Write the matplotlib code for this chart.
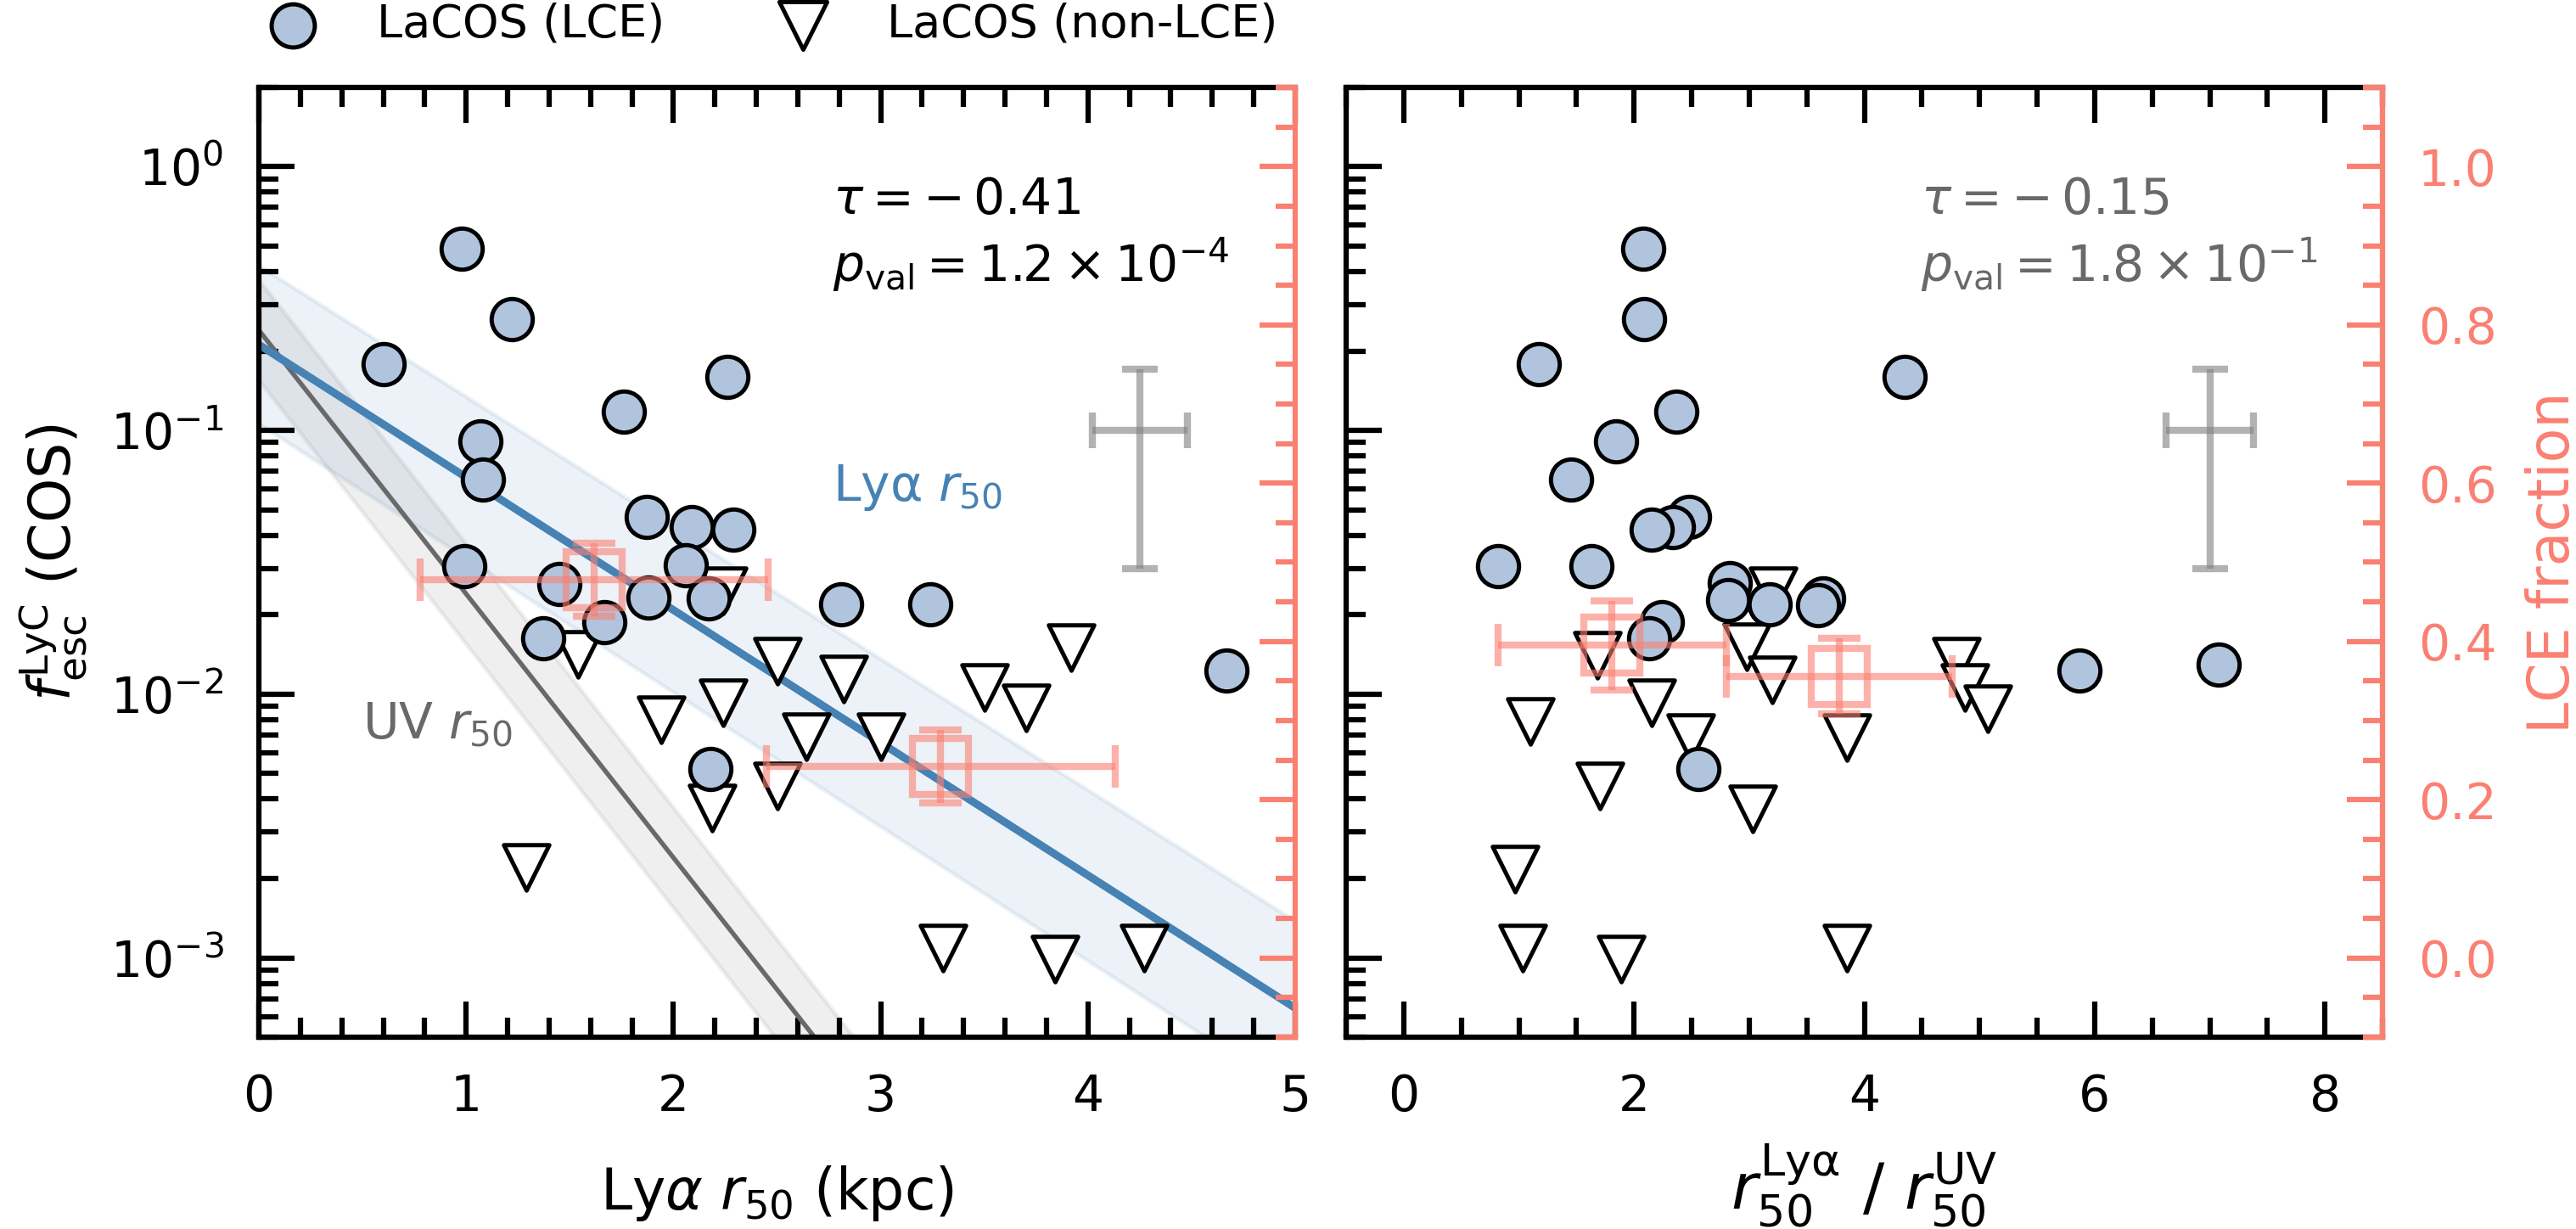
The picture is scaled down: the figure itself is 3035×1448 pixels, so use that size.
import numpy as np
import matplotlib
matplotlib.use("Agg")
from matplotlib import pyplot as plt
from matplotlib.ticker import MultipleLocator, LogLocator, NullFormatter

# ---- data ----
# left panel: Lya r50 (kpc) vs fesc(LyC)
lce_r50 = [0.98, 1.22, 0.60, 2.26, 1.76, 1.07, 1.08, 1.87, 2.09, 2.29, 0.99,
           2.06, 1.45, 1.88, 2.17, 2.81, 3.24, 1.665, 1.37, 4.67, 2.18]
lce_fesc_l = [0.49, 0.265, 0.178, 0.160, 0.118, 0.091, 0.065, 0.047, 0.043, 0.042,
              0.0306, 0.0309, 0.0262, 0.0232, 0.0231, 0.0219, 0.0219, 0.0187,
              0.0163, 0.0123, 0.0052]
non_r50 = [1.54, 2.50, 2.24, 1.94, 2.24, 2.185, 2.50, 1.29, 2.82, 3.92, 3.50,
           3.70, 2.64, 3.00, 3.30, 3.84, 4.27]
non_fesc_l = [0.0141, 0.0133, 0.0247, 0.0080, 0.0093, 0.0037, 0.0045, 0.0022,
              0.0114, 0.0150, 0.0106, 0.0089, 0.0069, 0.0069, 0.00109, 0.00099,
              0.00109]

# right panel: r50(Lya)/r50(UV) vs fesc(LyC)
lce_ratio = [2.08, 2.09, 1.17, 4.35, 2.37, 1.84, 1.45, 2.48, 2.34, 2.15, 0.82,
             1.63, 2.83, 2.82, 3.18, 3.64, 3.60, 2.24, 2.13, 5.87, 7.08, 2.56]
lce_fesc_r = [0.49, 0.265, 0.178, 0.160, 0.118, 0.091, 0.065, 0.047, 0.043, 0.042,
              0.0306, 0.0306, 0.0264, 0.0228, 0.0219, 0.0231, 0.0218, 0.0188,
              0.0163, 0.0123, 0.0129, 0.0052]
non_ratio = [1.68, 1.10, 2.15, 2.49, 1.70, 3.03, 0.965, 1.03, 1.89, 3.85, 2.98,
             3.20, 3.85, 4.80, 4.87, 5.07, 3.21]
non_fesc_r = [0.0140, 0.0079, 0.0093, 0.00685, 0.00448, 0.00366, 0.00217,
              0.00109, 0.00099, 0.00109, 0.0151, 0.0113, 0.00685, 0.0133, 0.0106,
              0.0088, 0.0247]

# binned LCE fraction (twin axis)
bin_r50 = [1.617, 3.29]
bin_r50_err = [0.84, 0.84]
bin_frac_l = [0.478, 0.242]
bin_frac_l_err = [0.046, 0.046]
bin_ratio = [1.81, 3.78]
bin_ratio_err = [0.99, 0.98]
bin_frac_r = [0.395, 0.356]
bin_frac_r_err = [0.056, 0.048]

# log-linear fits: log10(fesc) = a + b*x
fit_lya = (-0.675, -0.503)
fit_lya_lo = (-0.975, -0.509)
fit_lya_hi = (-0.375, -0.497)
fit_uv = (-0.62, -1.0)
fit_uv_lo = (-0.81, -1.0)
fit_uv_hi = (-0.43, -1.0)

# typical uncertainty (x, y, xerr, yerr)
typ_l = (4.25, 0.1, 0.23, 0.07)
typ_r = (7.0, 0.1, 0.38, 0.07)

stats_l = (r"$\tau = -\,0.41$", r"$p_{\rm val} = 1.2 \times 10^{-4}$")
stats_r = (r"$\tau = -\,0.15$", r"$p_{\rm val} = 1.8 \times 10^{-1}$")

salmon = "#fa8072"
ylim = (5e-4, 2.0)
# twin axis: LCE fraction 0..1 sits on 1e-3..1e0
tlim = ((np.log10(ylim[0]) + 3) / 3, (np.log10(ylim[1]) + 3) / 3)

fig = plt.figure(figsize=(3035 / 300, 1448 / 300), dpi=300)
axL = fig.add_axes([0.1005, 0.156, 0.4023, 0.773])
axR = fig.add_axes([0.5226, 0.156, 0.4023, 0.773])


def style_main(ax):
    ax.set_yscale("log")
    ax.set_ylim(*ylim)
    for s in ["left", "top", "bottom"]:
        ax.spines[s].set_linewidth(1.5)
    ax.spines["right"].set_visible(False)
    ax.tick_params(which="both", direction="in", top=True, right=False,
                   width=1.5, labelsize=14, pad=10)
    ax.tick_params(which="major", length=10)
    ax.tick_params(which="minor", length=5.5)
    ax.yaxis.set_major_locator(LogLocator(base=10, numticks=10))
    ax.yaxis.set_minor_locator(LogLocator(base=10, subs=np.arange(2, 10), numticks=20))
    ax.yaxis.set_minor_formatter(NullFormatter())


def style_twin(ax, labels):
    tw = ax.twinx()
    tw.set_ylim(*tlim)
    for s in ["left", "top", "bottom"]:
        tw.spines[s].set_visible(False)
    tw.spines["right"].set_color(salmon)
    tw.spines["right"].set_linewidth(1.5)
    tw.yaxis.set_major_locator(MultipleLocator(0.2))
    tw.yaxis.set_minor_locator(MultipleLocator(0.05))
    tw.tick_params(which="both", direction="in", colors=salmon, width=1.5,
                   labelsize=14, pad=10, labelright=labels)
    tw.tick_params(which="major", length=10)
    tw.tick_params(which="minor", length=5.5)
    return tw


# ---- left panel ----
style_main(axL)
xx = np.linspace(0, 5, 200)
axL.fill_between(xx, 10 ** (fit_uv_lo[0] + fit_uv_lo[1] * xx),
                 10 ** (fit_uv_hi[0] + fit_uv_hi[1] * xx),
                 color="gray", alpha=0.12, lw=1.2, zorder=1)
axL.plot(xx, 10 ** (fit_uv[0] + fit_uv[1] * xx), color="dimgray", lw=1.3, zorder=2)
axL.fill_between(xx, 10 ** (fit_lya_lo[0] + fit_lya_lo[1] * xx),
                 10 ** (fit_lya_hi[0] + fit_lya_hi[1] * xx),
                 color="steelblue", alpha=0.1, lw=1.2, zorder=1)
axL.plot(xx, 10 ** (fit_lya[0] + fit_lya[1] * xx), color="steelblue", lw=2.2, zorder=2)

hc = axL.scatter(lce_r50, lce_fesc_l, s=135, marker="o", c="lightsteelblue",
                 edgecolors="k", linewidths=1.2, zorder=4, label="LaCOS (LCE)")
ht = axL.scatter(non_r50, non_fesc_l, s=165, marker="v", c="white",
                 edgecolors="k", linewidths=1.2, zorder=3, label="LaCOS (non-LCE)")
axL.errorbar(typ_l[0], typ_l[1], xerr=typ_l[2], yerr=typ_l[3], color="gray",
             alpha=0.6, lw=2, capsize=5, capthick=2, zorder=3)

axL.set_xlim(0, 5)
axL.xaxis.set_major_locator(MultipleLocator(1))
axL.xaxis.set_minor_locator(MultipleLocator(0.2))
axL.set_xlabel(r"Ly$\alpha$ $r_{50}$ (kpc)", fontsize=16, labelpad=12)
axL.set_ylabel(r"$f_{\rm esc}^{\rm LyC}$ (COS)", fontsize=16, labelpad=6)

axL.text(0.554, 0.867, stats_l[0], transform=axL.transAxes, fontsize=14)
axL.text(0.554, 0.795, stats_l[1], transform=axL.transAxes, fontsize=14)
axL.text(0.554, 0.565, r"Ly$\mathrm{\alpha}$ $r_{50}$", transform=axL.transAxes,
         fontsize=14, color="steelblue")
axL.text(0.10, 0.315, r"UV $r_{50}$", transform=axL.transAxes, fontsize=14,
         color="dimgray")

twL = style_twin(axL, False)
twL.errorbar(bin_r50, bin_frac_l, xerr=bin_r50_err, yerr=bin_frac_l_err, fmt="s",
             mfc="none", mec=salmon, ms=16, mew=2, color=salmon, alpha=0.6,
             elinewidth=2, capsize=6, capthick=2)

# ---- right panel ----
style_main(axR)
axR.scatter(lce_ratio, lce_fesc_r, s=135, marker="o", c="lightsteelblue",
            edgecolors="k", linewidths=1.2, zorder=4)
axR.scatter(non_ratio, non_fesc_r, s=165, marker="v", c="white",
            edgecolors="k", linewidths=1.2, zorder=3)
axR.errorbar(typ_r[0], typ_r[1], xerr=typ_r[2], yerr=typ_r[3], color="gray",
             alpha=0.6, lw=2, capsize=5, capthick=2, zorder=3)
axR.set_xlim(-0.5, 8.5)
axR.xaxis.set_major_locator(MultipleLocator(2))
axR.xaxis.set_minor_locator(MultipleLocator(0.5))
axR.tick_params(labelleft=False)
axR.set_xlabel(r"$r_{50}^{\mathrm{Ly\alpha}}$ / $r_{50}^{\mathrm{UV}}$", fontsize=18,
               labelpad=6)
axR.text(0.554, 0.867, stats_r[0], transform=axR.transAxes, fontsize=14,
         color="dimgray")
axR.text(0.554, 0.795, stats_r[1], transform=axR.transAxes, fontsize=14,
         color="dimgray")

twR = style_twin(axR, True)
twR.errorbar(bin_ratio, bin_frac_r, xerr=bin_ratio_err, yerr=bin_frac_r_err, fmt="s",
             mfc="none", mec=salmon, ms=16, mew=2, color=salmon, alpha=0.6,
             elinewidth=2, capsize=6, capthick=2)
twR.set_ylabel("LCE fraction", color=salmon, fontsize=16, labelpad=8)

fig.legend(handles=[hc, ht], loc="center left", bbox_to_anchor=(0.0958, 0.98),
           ncol=2, frameon=False, fontsize=13, markerscale=1.05, handlelength=2.0,
           handletextpad=0.83, columnspacing=2.0, borderaxespad=0, borderpad=0)

fig.savefig("out.png", dpi=300)
